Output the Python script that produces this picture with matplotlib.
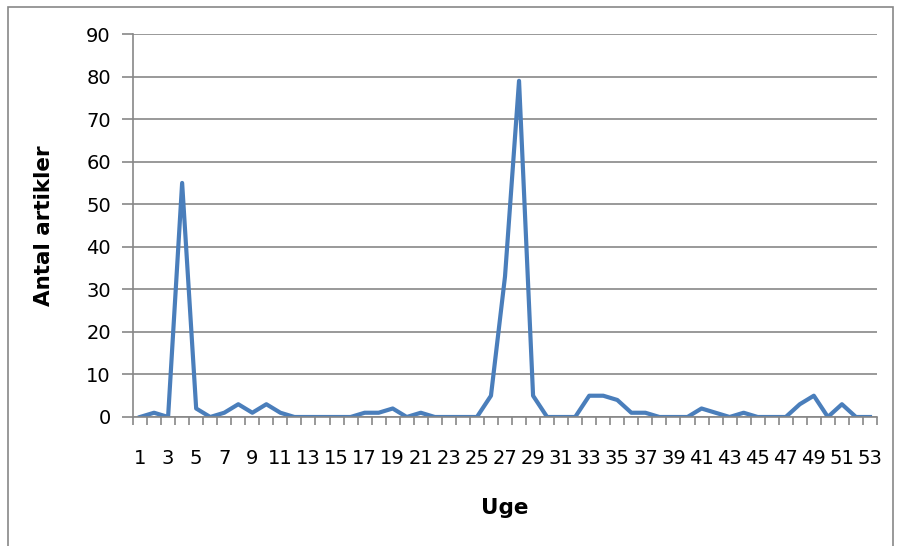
import matplotlib
matplotlib.use("Agg")
import matplotlib.pyplot as plt
from matplotlib.patches import Rectangle

weeks = list(range(1, 54))
articles = [0, 1, 0, 55, 2, 0, 1, 3, 1, 3,
            1, 0, 0, 0, 0, 0, 1, 1, 2, 0,
            1, 0, 0, 0, 0, 5, 33, 79, 5, 0,
            0, 0, 5, 5, 4, 1, 1, 0, 0, 0,
            2, 1, 0, 1, 0, 0, 0, 3, 5, 0,
            3, 0, 0]
y_ticks = list(range(0, 91, 10))

grey = "#878787"

fig = plt.figure(figsize=(8.97, 5.46), dpi=100)
fig.patches.append(Rectangle((8 / 897, -0.1), (893 - 8) / 897, 1.1 - 7 / 546,
                             transform=fig.transFigure, fill=False,
                             edgecolor=grey, linewidth=1.2))
ax = fig.add_axes([133 / 897, 1 - 417 / 546, (877 - 133) / 897, (417 - 34) / 546])

ax.plot(weeks, articles, color="#4a7ebb", linewidth=3.0, solid_joinstyle="round")

ax.set_xlim(0.5, 53.5)
ax.set_ylim(0, 90)
ax.set_yticks(y_ticks)
ax.set_xticks([w + 0.5 for w in [0] + weeks], minor=False)
ax.set_xticklabels([])
ax.set_xticks(weeks[::2], minor=True)
ax.set_xticklabels([str(w) for w in weeks[::2]], minor=True)
ax.tick_params(axis="x", which="major", length=6, color=grey, width=1.2, direction="out")
ax.tick_params(axis="x", which="minor", length=0, labelsize=14, pad=23)
ax.tick_params(axis="y", length=8, color=grey, width=1.2, labelsize=14, pad=8)
ax.grid(axis="y", color=grey, linewidth=1.2)
ax.set_axisbelow(True)
for s in ["top", "right"]:
    ax.spines[s].set_visible(False)
for s in ["left", "bottom"]:
    ax.spines[s].set_color(grey)
    ax.spines[s].set_linewidth(1.2)

ax.set_ylabel("Antal artikler", fontsize=15.5, fontweight="bold", labelpad=23)
ax.set_xlabel("Uge", fontsize=15.5, fontweight="bold", labelpad=22)

fig.savefig("out.png", dpi=100)
